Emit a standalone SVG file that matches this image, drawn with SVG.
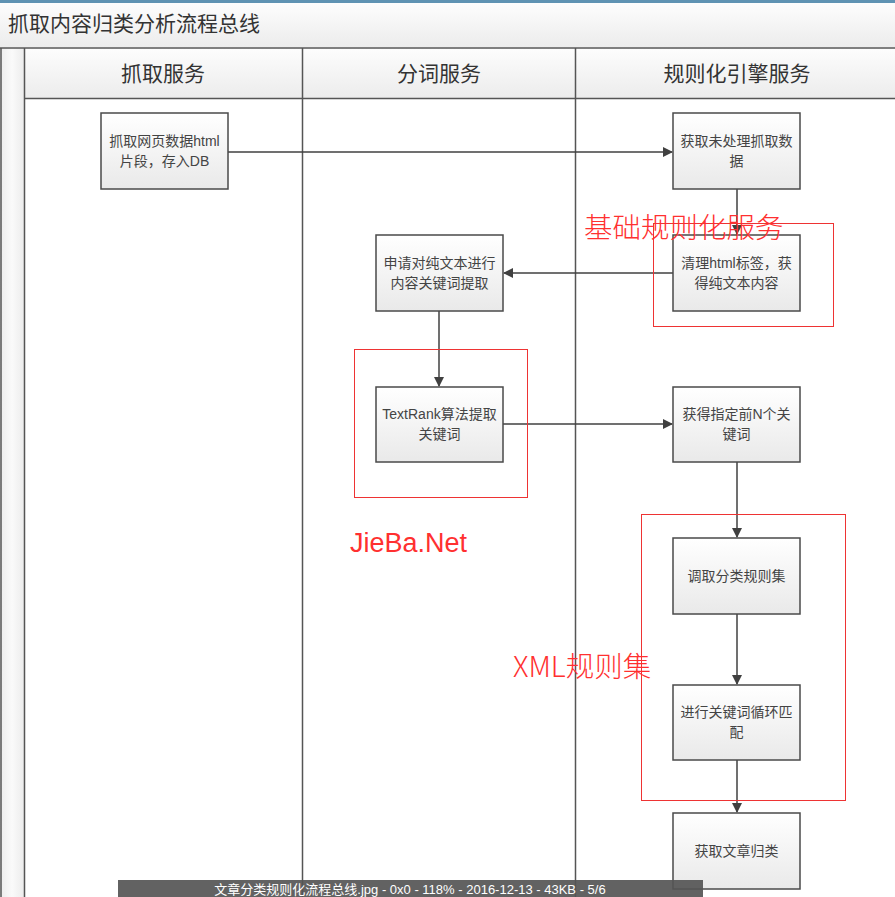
<svg xmlns="http://www.w3.org/2000/svg" width="895" height="897" viewBox="0 0 895 897">
<defs>
<linearGradient id="gBox" x1="0" y1="0" x2="0" y2="1"><stop offset="0" stop-color="#ffffff"/><stop offset="1" stop-color="#e9e9e9"/></linearGradient>
<linearGradient id="gHead" x1="0" y1="0" x2="0" y2="1"><stop offset="0" stop-color="#fdfdfd"/><stop offset="1" stop-color="#ececec"/></linearGradient>
<linearGradient id="gStrip" x1="0" y1="0" x2="1" y2="0"><stop offset="0" stop-color="#ececec"/><stop offset="0.5" stop-color="#fafafa"/><stop offset="1" stop-color="#ececec"/></linearGradient>
<marker id="arr" markerWidth="10" markerHeight="10" refX="9" refY="5" orient="auto" markerUnits="userSpaceOnUse"><path d="M0,0 L10,5 L0,10 Z" fill="#404040"/></marker>
</defs>
<style>
.box{fill:url(#gBox);stroke:#4a4a4a;stroke-width:1.5}
.bt{font-family:"Liberation Sans","Noto Sans CJK SC",sans-serif;font-size:14px;fill:#444;text-anchor:middle}
.hd{font-family:"Noto Sans CJK SC",sans-serif;font-size:21px;fill:#333;text-anchor:middle}
.ln{stroke:#555;stroke-width:1.5;fill:none}
.con{stroke:#404040;stroke-width:1.5;fill:none;marker-end:url(#arr)}
.red{fill:none;stroke:#ee3333;stroke-width:1}
.rt{font-family:"Noto Sans CJK SC",sans-serif;font-size:28.5px;font-weight:300;fill:#ff3030}
</style>
<rect x="0" y="0" width="895" height="897" fill="#ffffff"/>
<rect x="0" y="0" width="895" height="3" fill="#5f93b3"/>
<rect x="0" y="3" width="895" height="44" fill="url(#gHead)"/>
<text x="8" y="31" font-family="Noto Sans CJK SC,sans-serif" font-size="21" fill="#333">抓取内容归类分析流程总线</text>
<rect x="0" y="48" width="24" height="849" fill="url(#gStrip)"/>
<rect x="24" y="48" width="871" height="50" fill="url(#gHead)"/>
<line class="ln" x1="0" y1="48" x2="895" y2="48"/>
<line class="ln" x1="24" y1="98.5" x2="895" y2="98.5"/>
<line class="ln" x1="1" y1="48" x2="1" y2="897"/>
<line class="ln" x1="24.5" y1="48" x2="24.5" y2="897"/>
<line class="ln" x1="302.5" y1="48" x2="302.5" y2="897"/>
<line class="ln" x1="575.5" y1="48" x2="575.5" y2="897"/>
<text class="hd" x="163" y="81">抓取服务</text>
<text class="hd" x="439" y="81">分词服务</text>
<text class="hd" x="737" y="81">规则化引擎服务</text>
<g id="connectors">
<line class="con" x1="228" y1="152" x2="672" y2="152"/>
<line class="con" x1="737" y1="189" x2="737" y2="234"/>
<line class="con" x1="673" y1="273" x2="504" y2="273"/>
<line class="con" x1="439" y1="311" x2="439" y2="386"/>
<line class="con" x1="503" y1="424" x2="672" y2="424"/>
<line class="con" x1="737" y1="462" x2="737" y2="537"/>
<line class="con" x1="737" y1="614" x2="737" y2="684"/>
<line class="con" x1="737" y1="760" x2="737" y2="812"/>
</g>
<g id="n1"><rect class="box" x="101" y="113" width="127" height="76"/><text class="bt" x="164.5" y="146">抓取网页数据html</text><text class="bt" x="164.5" y="166">片段，存入DB</text></g>
<g id="n2"><rect class="box" x="673" y="113" width="127" height="76"/><text class="bt" x="736.5" y="146">获取未处理抓取数</text><text class="bt" x="736.5" y="166">据</text></g>
<g id="n3"><rect class="box" x="673" y="235" width="127" height="76"/><text class="bt" x="736.5" y="268">清理html标签，获</text><text class="bt" x="736.5" y="288">得纯文本内容</text></g>
<g id="n4"><rect class="box" x="376" y="235" width="127" height="76"/><text class="bt" x="439.5" y="268">申请对纯文本进行</text><text class="bt" x="439.5" y="288">内容关键词提取</text></g>
<g id="n5"><rect class="box" x="376" y="387" width="127" height="75"/><text class="bt" x="439.5" y="419">TextRank算法提取</text><text class="bt" x="439.5" y="439">关键词</text></g>
<g id="n6"><rect class="box" x="673" y="387" width="127" height="75"/><text class="bt" x="736.5" y="419">获得指定前N个关</text><text class="bt" x="736.5" y="439">键词</text></g>
<g id="n7"><rect class="box" x="673" y="538" width="127" height="76"/><text class="bt" x="736.5" y="581">调取分类规则集</text></g>
<g id="n8"><rect class="box" x="673" y="685" width="127" height="75"/><text class="bt" x="736.5" y="717">进行关键词循环匹</text><text class="bt" x="736.5" y="737">配</text></g>
<g id="n9"><rect class="box" x="673" y="813" width="127" height="76"/><text class="bt" x="736.5" y="856">获取文章归类</text></g>
<rect class="red" x="653.5" y="223.5" width="180" height="103"/>
<rect class="red" x="354.5" y="349.5" width="173" height="148"/>
<rect class="red" x="641.5" y="514.5" width="204" height="286"/>
<text class="rt" x="584" y="238">基础规则化服务</text>
<text class="rt" x="350" y="552" style="font-family:'Liberation Sans',sans-serif;font-size:27px;font-weight:400">JieBa.Net</text>
<text class="rt" x="513" y="677">XML规则集</text>
<rect x="118" y="880" width="585" height="17" fill="#555" fill-opacity="0.92"/>
<text x="410" y="894" font-family="Liberation Sans,Noto Sans CJK SC,sans-serif" font-size="13" fill="#ffffff" text-anchor="middle">文章分类规则化流程总线.jpg - 0x0 - 118% - 2016-12-13 - 43KB - 5/6</text>
</svg>
